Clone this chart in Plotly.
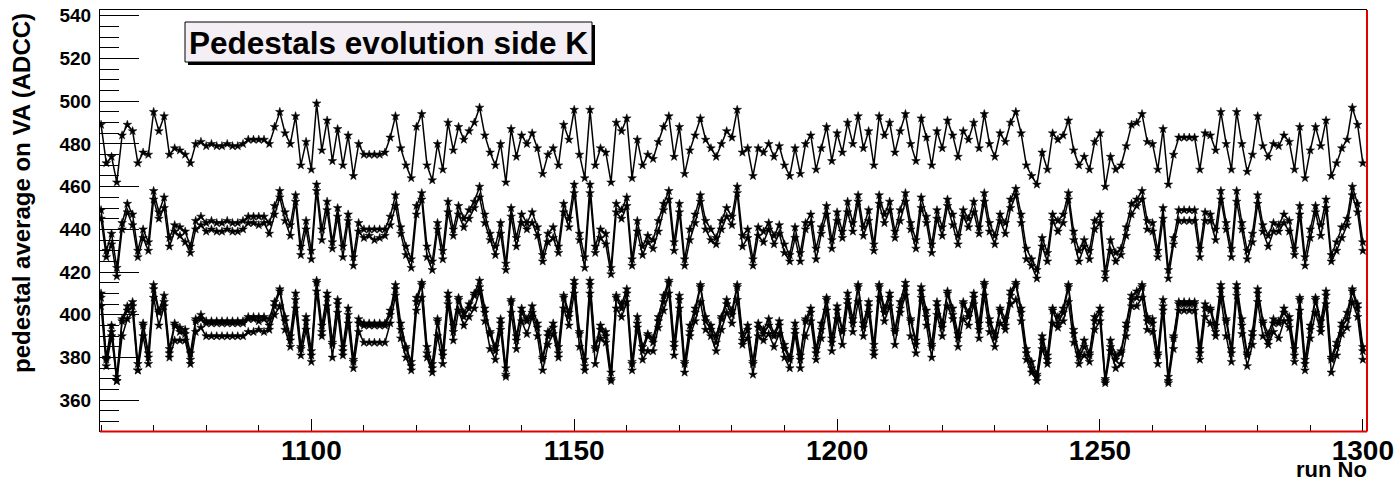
import plotly.graph_objects as go

runs = list(range(1060, 1301))

# upper series (single line ~480)
top_line = [
    489, 471, 474, 462, 484, 489, 486, 471, 476, 475,
    495, 486, 493, 475, 478, 477, 475, 471, 480, 481,
    479, 480, 479, 479, 480, 479, 479, 480, 482, 482,
    482, 482, 480, 488, 495, 485, 480, 493, 470, 481,
    468, 499, 477, 491, 472, 487, 470, 484, 465, 480,
    475, 475, 475, 475, 476, 483, 493, 478, 470, 464,
    488, 494, 470, 463, 480, 468, 490, 477, 488, 482,
    486, 490, 497, 484, 476, 470, 480, 462, 487, 474,
    484, 480, 485, 478, 466, 475, 478, 470, 489, 482,
    496, 475, 464, 496, 470, 478, 476, 462, 490, 486,
    492, 464, 482, 470, 475, 473, 481, 488, 493, 474,
    488, 466, 477, 484, 492, 482, 478, 474, 480, 486,
    483, 496, 476, 478, 465, 478, 476, 480, 474, 479,
    470, 465, 478, 466, 480, 484, 468, 478, 488, 472,
    485, 476, 490, 480, 493, 478, 486, 470, 493, 484,
    490, 476, 486, 494, 480, 472, 492, 483, 470, 486,
    478, 491, 484, 474, 486, 482, 490, 478, 494, 480,
    474, 485, 481, 490, 495, 485, 470, 465, 461, 476,
    468, 485, 482, 484, 491, 477, 470, 474, 468, 481,
    485, 460, 474, 468, 470, 479, 489, 490, 494, 481,
    480, 468, 487, 461, 475, 483, 483, 483, 483, 468,
    485, 484, 477, 495, 480, 468, 495, 480, 467, 475,
    493, 479, 474, 480, 479, 484, 481, 468, 488, 464,
    477, 488, 479, 491, 465, 471, 478, 482, 497, 489, 471,
]

mid_a = [
    449, 430, 438, 422, 443, 452, 447, 430, 440, 434,
    458, 448, 455, 436, 442, 441, 439, 432, 444, 446,
    443, 444, 443, 443, 444, 443, 443, 444, 446, 446,
    446, 446, 443, 451, 458, 448, 442, 456, 432, 444,
    430, 461, 440, 453, 434, 450, 432, 447, 427, 443,
    440, 440, 440, 440, 440, 446, 456, 441, 432, 426,
    451, 457, 432, 425, 443, 430, 453, 440, 451, 445,
    449, 453, 460, 447, 438, 432, 443, 424, 450, 436,
    447, 443, 448, 441, 428, 438, 441, 432, 452, 445,
    461, 438, 427, 461, 432, 440, 438, 422, 452, 449,
    455, 426, 444, 432, 437, 435, 444, 452, 458, 434,
    452, 426, 440, 447, 456, 444, 440, 436, 444, 450,
    446, 460, 437, 440, 426, 441, 439, 443, 437, 442,
    433, 428, 441, 429, 443, 447, 431, 441, 451, 435,
    448, 439, 453, 443, 456, 441, 449, 433, 456, 447,
    453, 439, 449, 457, 443, 435, 455, 446, 433, 449,
    441, 454, 447, 437, 449, 445, 453, 441, 457, 443,
    437, 447, 443, 454, 459, 447, 431, 426, 421, 436,
    429, 447, 444, 447, 457, 439, 430, 435, 430, 444,
    447, 420, 435, 429, 431, 441, 452, 454, 458, 444,
    443, 430, 450, 421, 436, 449, 449, 449, 449, 431,
    448, 447, 440, 458, 443, 431, 458, 443, 430, 438,
    456, 442, 437, 443, 442, 447, 444, 431, 451, 427,
    440, 451, 442, 454, 428, 434, 441, 445, 460, 452, 434,
]

mid_b = [
    445, 427, 433, 418, 440, 448, 442, 427, 436, 430,
    454, 445, 450, 432, 439, 437, 434, 429, 440, 442,
    439, 440, 439, 439, 440, 439, 439, 440, 443, 443,
    442, 443, 438, 447, 455, 444, 437, 453, 428, 440,
    426, 458, 435, 449, 431, 446, 427, 444, 423, 439,
    436, 437, 435, 436, 437, 442, 451, 438, 428, 422,
    447, 454, 427, 421, 440, 426, 448, 437, 447, 441,
    445, 450, 455, 443, 435, 428, 438, 421, 446, 432,
    443, 440, 443, 437, 425, 434, 436, 429, 448, 441,
    457, 435, 422, 457, 429, 436, 433, 419, 448, 445,
    451, 423, 439, 428, 434, 431, 439, 449, 454, 430,
    448, 423, 435, 443, 453, 440, 435, 433, 440, 446,
    442, 457, 432, 436, 423, 437, 434, 440, 433, 438,
    429, 425, 436, 425, 440, 443, 426, 438, 447, 431,
    444, 436, 448, 439, 453, 437, 444, 430, 452, 443,
    449, 436, 444, 453, 440, 431, 450, 443, 429, 445,
    437, 451, 442, 433, 446, 441, 448, 438, 453, 439,
    433, 444, 438, 450, 456, 443, 426, 423, 417, 432,
    425, 444, 439, 443, 454, 435, 425, 432, 426, 440,
    443, 417, 430, 425, 428, 437, 447, 451, 454, 440,
    439, 427, 445, 417, 433, 444, 444, 444, 444, 427,
    444, 444, 435, 454, 440, 427, 453, 440, 426, 434,
    452, 439, 432, 439, 439, 443, 439, 428, 447, 423,
    436, 448, 437, 450, 425, 430, 436, 442, 456, 448, 430,
]

low_a = [
    410, 380, 395, 371, 398, 404, 406, 377, 396, 382,
    414, 402, 409, 384, 396, 394, 393, 382, 398, 400,
    397, 397, 397, 397, 397, 397, 397, 397, 399, 399,
    399, 399, 398, 406, 412, 399, 390, 410, 385, 399,
    383, 416, 395, 410, 387, 407, 385, 403, 379, 398,
    396, 396, 396, 396, 396, 402, 414, 396, 385, 378,
    408, 415, 385, 377, 398, 383, 410, 395, 408, 401,
    405, 410, 416, 403, 392, 385, 398, 375, 407, 390,
    403, 398, 404, 396, 380, 392, 396, 385, 409, 401,
    416, 392, 379, 416, 385, 395, 392, 373, 409, 405,
    412, 378, 399, 385, 391, 389, 399, 409, 416, 387,
    409, 378, 395, 403, 414, 399, 395, 390, 399, 407,
    402, 414, 391, 395, 378, 396, 393, 398, 391, 397,
    386, 380, 396, 381, 398, 403, 384, 396, 408, 389,
    404, 393, 410, 398, 414, 396, 406, 386, 414, 403,
    410, 393, 406, 415, 398, 388, 413, 402, 386, 406,
    396, 411, 403, 391, 406, 401, 410, 396, 415, 398,
    391, 403, 398, 411, 415, 403, 384, 378, 372, 390,
    381, 403, 399, 403, 414, 393, 382, 388, 382, 399,
    403, 370, 388, 381, 383, 396, 409, 411, 414, 399,
    398, 382, 407, 371, 390, 406, 406, 406, 406, 384,
    405, 403, 395, 414, 398, 384, 414, 398, 382, 392,
    412, 397, 391, 398, 397, 403, 399, 384, 408, 379,
    395, 408, 397, 411, 380, 387, 396, 401, 412, 405, 385,
]

low_b = [
    408, 379, 392, 369, 397, 402, 404, 374, 395, 380,
    412, 401, 406, 382, 395, 392, 391, 379, 397, 398,
    396, 396, 396, 396, 396, 396, 396, 396, 398, 398,
    397, 398, 395, 404, 411, 397, 388, 407, 384, 397,
    381, 415, 392, 408, 386, 405, 383, 400, 378, 396,
    395, 395, 395, 395, 395, 400, 412, 393, 384, 376,
    406, 414, 382, 375, 397, 381, 408, 392, 407, 399,
    403, 409, 413, 401, 391, 383, 396, 372, 406, 388,
    401, 397, 401, 394, 379, 390, 394, 382, 408, 399,
    414, 391, 376, 414, 384, 393, 390, 370, 408, 403,
    410, 377, 396, 383, 390, 387, 397, 406, 415, 385,
    407, 377, 392, 401, 413, 397, 393, 387, 398, 405,
    400, 413, 388, 393, 377, 394, 391, 395, 390, 395,
    384, 379, 393, 379, 397, 401, 382, 393, 407, 387,
    402, 392, 407, 396, 413, 394, 404, 383, 413, 401,
    408, 392, 403, 413, 397, 386, 411, 399, 385, 404,
    394, 410, 400, 389, 405, 399, 408, 393, 414, 396,
    389, 402, 395, 409, 414, 401, 382, 375, 371, 388,
    379, 402, 396, 401, 413, 391, 380, 385, 381, 397,
    401, 369, 385, 379, 382, 394, 407, 408, 413, 397,
    396, 381, 404, 369, 389, 405, 405, 405, 405, 382,
    403, 402, 392, 412, 397, 382, 412, 395, 381, 390,
    410, 396, 388, 396, 396, 401, 397, 381, 407, 377,
    393, 407, 394, 409, 379, 385, 394, 398, 411, 403, 383,
]

low_c = [
    404, 376, 390, 369, 390, 398, 401, 374, 390, 377,
    408, 395, 404, 380, 388, 388, 388, 377, 392, 394,
    390, 390, 390, 390, 390, 390, 390, 390, 392, 392,
    393, 392, 393, 400, 404, 393, 385, 403, 381, 393,
    378, 411, 390, 404, 380, 401, 381, 396, 375, 392,
    387, 387, 387, 387, 387, 396, 409, 389, 380, 374,
    402, 408, 380, 373, 390, 377, 405, 388, 402, 395,
    399, 403, 411, 397, 384, 379, 393, 371, 401, 384,
    397, 391, 399, 390, 374, 386, 391, 380, 403, 395,
    410, 385, 374, 410, 377, 389, 387, 369, 403, 399,
    406, 374, 394, 379, 383, 383, 394, 402, 410, 381,
    403, 373, 390, 397, 406, 393, 390, 383, 393, 401,
    396, 407, 386, 389, 372, 390, 388, 391, 385, 391,
    380, 375, 391, 375, 390, 397, 379, 389, 402, 383,
    398, 386, 405, 392, 406, 390, 401, 381, 408, 397,
    404, 386, 401, 409, 390, 382, 408, 395, 380, 400,
    390, 404, 398, 385, 398, 395, 405, 389, 409, 392,
    385, 396, 393, 405, 407, 397, 379, 373, 369, 384,
    377, 396, 394, 397, 406, 387, 377, 381, 378, 393,
    397, 368, 383, 375, 377, 390, 404, 404, 408, 393,
    392, 377, 402, 368, 384, 402, 402, 402, 402, 379,
    399, 396, 390, 408, 390, 378, 409, 391, 376, 386,
    406, 390, 386, 392, 389, 397, 394, 378, 402, 374,
    389, 401, 392, 405, 373, 381, 391, 394, 406, 399, 379,
]

series = [top_line, mid_a, mid_b, low_a, low_b, low_c]

# ---- layout geometry (pixels) ----
W, H = 1395, 481
L, R, T, B = 100, 1366, 10, 431
pw, ph = R - L, B - T


def px_x(p):
    return (p - L) / pw


def px_y(p):
    return (B - p) / ph


FONT = "Liberation Sans, Arial, Helvetica, sans-serif"

fig = go.Figure()
for s in series:
    fig.add_trace(go.Scatter(
        x=runs, y=s, mode="lines+markers",
        line=dict(color="black", width=1.5),
        marker=dict(symbol="star", size=6.5, color="black",
                    line=dict(width=0.5, color="black")),
        showlegend=False, hoverinfo="x+y",
    ))

fig.update_layout(
    width=W, height=H,
    margin=dict(l=L, r=W - R, t=T, b=H - B, pad=0, autoexpand=False),
    paper_bgcolor="white", plot_bgcolor="white",
    font=dict(family=FONT, color="black"),
    xaxis=dict(
        range=[1059.8, 1300.6], showgrid=False, zeroline=False,
        automargin=False,
        showline=True, linecolor="black", linewidth=1, mirror=True,
        ticks="inside", ticklen=12, tickwidth=1, tickcolor="black",
        tick0=1100, dtick=50,
        tickfont=dict(family=FONT, size=28, color="black", weight="bold"),
        minor=dict(ticks="inside", ticklen=6, tickwidth=1,
                   tickcolor="black", dtick=10, showgrid=False),
        ticklabelstandoff=-6,
    ),
    yaxis=dict(
        range=[345.6, 542.7], showgrid=False, zeroline=False,
        automargin=False,
        showline=True, linecolor="black", linewidth=1, mirror=True,
        ticks="inside", ticklen=39, tickwidth=1, tickcolor="black",
        tick0=360, dtick=20,
        tickfont=dict(family=FONT, size=19, color="black", weight="bold"),
        minor=dict(ticks="inside", ticklen=19, tickwidth=1,
                   tickcolor="black", dtick=5, showgrid=False),
        ticklabelstandoff=4,
    ),
    shapes=[
        # red frame lines (bottom and right)
        dict(type="line", xref="paper", yref="paper",
             x0=0, x1=px_x(R + 1), y0=px_y(B + 0.5), y1=px_y(B + 0.5),
             line=dict(color="#e00000", width=2)),
        dict(type="line", xref="paper", yref="paper",
             x0=px_x(R + 1), x1=px_x(R + 1), y0=px_y(B + 0.5), y1=1,
             line=dict(color="#e00000", width=2)),
        # title box shadow
        dict(type="rect", xref="paper", yref="paper",
             x0=px_x(188), x1=px_x(595), y0=px_y(65), y1=px_y(25),
             fillcolor="black", line=dict(width=0), layer="above"),
        # title box
        dict(type="rect", xref="paper", yref="paper",
             x0=px_x(185), x1=px_x(592), y0=px_y(62), y1=px_y(22),
             fillcolor="#f4eff4", line=dict(color="black", width=1),
             layer="above"),
    ],
    annotations=[
        dict(text="Pedestals evolution side K", xref="paper", yref="paper",
             x=px_x(388.5), y=px_y(42.5), xanchor="center", yanchor="middle",
             showarrow=False,
             font=dict(family=FONT, size=31.5, color="black", weight="bold")),
        dict(text="pedestal average on VA (ADCC)", xref="paper", yref="paper",
             x=px_x(21), y=px_y(11), xanchor="center", yanchor="top",
             textangle=-90, showarrow=False,
             font=dict(family=FONT, size=24, color="black", weight="bold")),
        dict(text="run No", xref="paper", yref="paper",
             x=px_x(1369), y=px_y(469), xanchor="right", yanchor="middle",
             showarrow=False,
             font=dict(family=FONT, size=22, color="black", weight="bold")),
    ],
)

fig.write_html(
    "out.html",
    config={"displayModeBar": False},
    post_script="document.body.style.margin='0';"
                "document.body.style.overflow='hidden';",
)
